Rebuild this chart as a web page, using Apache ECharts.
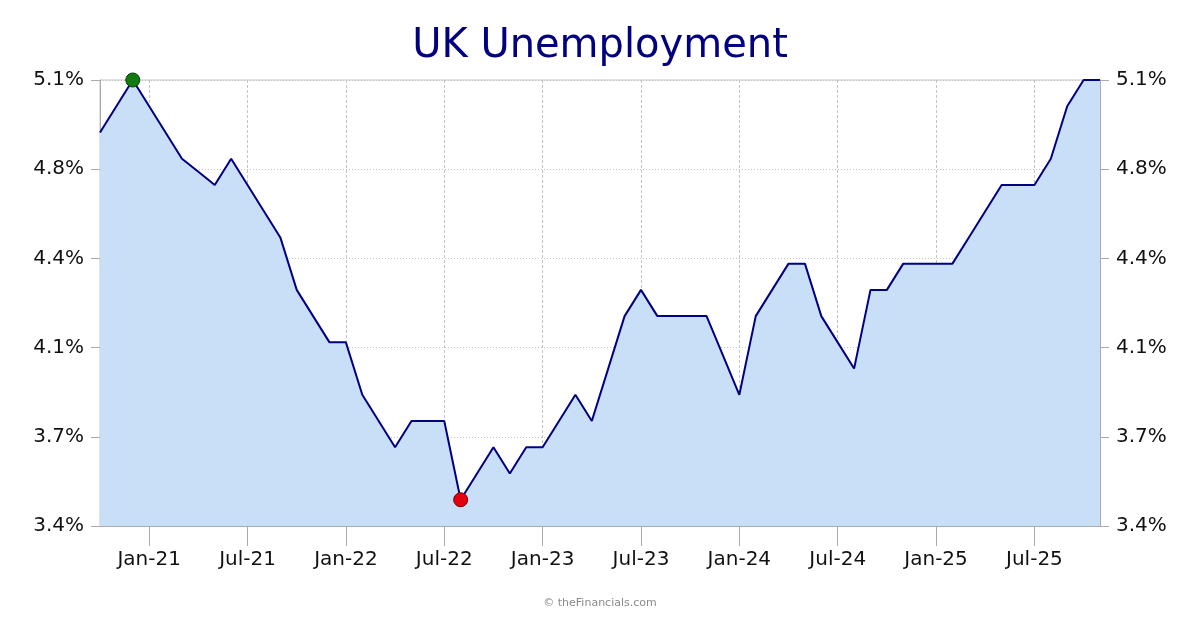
<!DOCTYPE html>
<html>
<head>
<meta charset="utf-8">
<script src="https://cdn.jsdelivr.net/npm/echarts@6/dist/echarts.min.js"></script>
<style>html,body{margin:0;padding:0;background:#fff;}#c{width:1200px;height:630px;}</style>
</head>
<body>
<div id="c"></div>
<script>
const titleText = 'UK Unemployment';
const creditText = '© theFinancials.com';
const months = [
  'Oct-20','Nov-20','Dec-20',
  'Jan-21','Feb-21','Mar-21','Apr-21','May-21','Jun-21','Jul-21','Aug-21','Sep-21','Oct-21','Nov-21','Dec-21',
  'Jan-22','Feb-22','Mar-22','Apr-22','May-22','Jun-22','Jul-22','Aug-22','Sep-22','Oct-22','Nov-22','Dec-22',
  'Jan-23','Feb-23','Mar-23','Apr-23','May-23','Jun-23','Jul-23','Aug-23','Sep-23','Oct-23','Nov-23','Dec-23',
  'Jan-24','Feb-24','Mar-24','Apr-24','May-24','Jun-24','Jul-24','Aug-24','Sep-24','Oct-24','Nov-24','Dec-24',
  'Jan-25','Feb-25','Mar-25','Apr-25','May-25','Jun-25','Jul-25','Aug-25','Sep-25','Oct-25','Nov-25'
];
const unemployment = [
  4.9, 5.0, 5.1,
  5.0, 4.9, 4.8, 4.75, 4.7, 4.8, 4.7, 4.6, 4.5, 4.3, 4.2, 4.1,
  4.1, 3.9, 3.8, 3.7, 3.8, 3.8, 3.8, 3.5, 3.6, 3.7, 3.6, 3.7,
  3.7, 3.8, 3.9, 3.8, 4.0, 4.2, 4.3, 4.2, 4.2, 4.2, 4.2, 4.05,
  3.9, 4.2, 4.3, 4.4, 4.4, 4.2, 4.1, 4.0, 4.3, 4.3, 4.4, 4.4,
  4.4, 4.4, 4.5, 4.6, 4.7, 4.7, 4.7, 4.8, 5.0, 5.1, 5.1
];
const yMin = 3.4, yMax = 5.1, yStep = 0.34;

let maxIdx = 0, minIdx = 0;
unemployment.forEach((v, i) => {
  if (v > unemployment[maxIdx]) maxIdx = i;
  if (v < unemployment[minIdx]) minIdx = i;
});

const isTickMonth = (idx) => /^(Jan|Jul)/.test(months[idx]);
const fam = 'DejaVu Sans, Verdana, sans-serif';
const axisGray = '#aaaaaa';
const gridGray = '#c4c4c4';

const yAxisBase = {
  type: 'value', min: yMin, max: yMax, interval: yStep,
  axisLine: { show: true, lineStyle: { color: axisGray } },
  axisTick: { show: true, length: 9, lineStyle: { color: axisGray } },
  axisLabel: {
    color: '#111', fontSize: 20, fontFamily: fam, margin: 16,
    formatter: v => v.toFixed(1) + '%'
  }
};

const chart = echarts.init(document.getElementById('c'), null, { renderer: 'canvas' });
chart.setOption({
  backgroundColor: '#ffffff',
  animation: false,
  title: {
    text: titleText, left: 'center', top: 22,
    textStyle: { color: '#000080', fontSize: 40, fontWeight: 'normal', fontFamily: fam }
  },
  grid: { left: 100, right: 100, top: 80, bottom: 104, show: true, borderColor: gridGray, borderWidth: 1, backgroundColor: 'transparent' },
  xAxis: {
    type: 'category', data: months, boundaryGap: false,
    axisLine: { show: true, lineStyle: { color: axisGray } },
    axisTick: { show: true, length: 20, interval: (i) => isTickMonth(i), lineStyle: { color: axisGray } },
    axisLabel: { interval: (i) => isTickMonth(i), color: '#111', fontSize: 20, fontFamily: fam, margin: 24 },
    splitLine: { show: true, interval: (i) => isTickMonth(i), lineStyle: { color: gridGray, type: [3, 2], width: 1 } }
  },
  yAxis: [
    Object.assign({}, yAxisBase, {
      position: 'left',
      splitLine: { show: true, lineStyle: { color: gridGray, type: [1, 2], width: 1 } }
    }),
    Object.assign({}, yAxisBase, {
      position: 'right',
      splitLine: { show: false }
    })
  ],
  series: [{
    type: 'line', data: unemployment, yAxisIndex: 0,
    symbol: 'none', smooth: false,
    lineStyle: { color: '#000080', width: 2 },
    itemStyle: { color: '#000080' },
    areaStyle: { color: '#c9dff7', opacity: 1 },
    markPoint: {
      symbol: 'circle', symbolSize: 14, label: { show: false },
      data: [
        { coord: [months[maxIdx], unemployment[maxIdx]], itemStyle: { color: '#107c10', borderColor: '#034003', borderWidth: 1 } },
        { coord: [months[minIdx], unemployment[minIdx]], itemStyle: { color: '#e3000f', borderColor: '#7a0000', borderWidth: 1 } }
      ]
    }
  }],
  graphic: [{
    type: 'text', left: 'center', top: 598,
    style: { text: creditText, fill: '#8a8a8a', font: '11px ' + fam }
  }]
});
</script>
</body>
</html>
